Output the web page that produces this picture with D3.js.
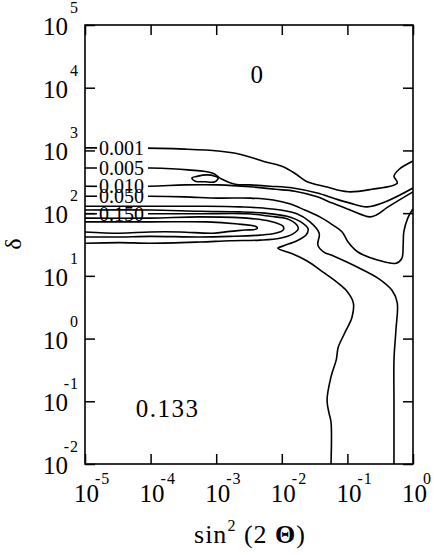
<!DOCTYPE html>
<html>
<head>
<meta charset="utf-8">
<script src="https://cdn.jsdelivr.net/npm/d3@7"></script>
<style>
body{margin:0;background:#fff;}
svg{display:block;font-family:"Liberation Serif","Times New Roman",serif;}
</style>
</head>
<body>
<div id="chart"></div>
<script>
//decades on each axis (log10 exponents)
const xExponents = [-5,-4,-3,-2,-1,0];
const yExponents = [-2,-1,0,1,2,3,4,5];

//contour lines, points are [log10 sin^2(2θ), log10 δ]
const c001 = [[-5,3.04],[-4.31,3.04],[-3.48,3.02],[-2.97,2.99],[-2.64,2.94],[-2.26,2.82],[-1.98,2.74],[-1.78,2.62],[-1.63,2.51],[-1.33,2.42],[-0.99,2.34],[-0.63,2.38],[-0.24,2.48],[-0.29,2.59],[-0.21,2.70],[0,2.83]];
const c005 = [[-5,2.72],[-4.01,2.72],[-3.43,2.69],[-3.06,2.64],[-2.91,2.54],[-2.71,2.46],[-2.48,2.45],[-2.18,2.43],[-1.83,2.40],[-1.46,2.32],[-1.19,2.23],[-0.96,2.16],[-0.70,2.10],[-0.40,2.19],[0,2.40]];
const c010 = [[-5,2.43],[-4.01,2.43],[-3.48,2.45],[-2.97,2.45],[-2.48,2.42],[-2.10,2.38],[-1.80,2.35],[-1.46,2.26],[-1.23,2.16],[-0.96,2.05],[-0.66,1.94],[-0.56,1.97],[-0.38,2.10],[0,2.34]];
const c050 = [[-5,2.27],[-4.01,2.27],[-3.48,2.26],[-2.97,2.24],[-2.48,2.24],[-2.13,2.21],[-1.88,2.15],[-1.65,2.05],[-1.42,1.94],[-1.22,1.81],[-1.08,1.70],[-0.99,1.54],[-0.84,1.38],[-0.53,1.25],[-0.26,1.20],[-0.17,1.28],[-0.15,1.49],[-0.14,1.70],[-0.08,1.92],[0,2.07]];
const cB = [[-5,2.11],[-4.01,2.11],[-3.25,2.11],[-2.64,2.10],[-2.18,2.07],[-1.77,1.99],[-1.57,1.86],[-1.43,1.68],[-1.45,1.49],[-1.36,1.38],[-1.22,1.32],[-0.85,1.14],[-0.53,0.96],[-0.32,0.77],[-0.24,0.57],[-0.26,0.14],[-0.29,-0.34],[-0.29,-0.98],[-0.29,-2]];
const cA = [[-5,2.05],[-4.01,2.05],[-3.25,2.03],[-2.64,2.02],[-2.26,2.00],[-1.92,1.95],[-1.71,1.86],[-1.60,1.75],[-1.63,1.65],[-1.77,1.56],[-1.97,1.48],[-2.06,1.44],[-1.83,1.35],[-1.62,1.24],[-1.37,1.06],[-1.16,0.90],[-1.01,0.76],[-0.91,0.57],[-0.93,0.34],[-1.04,0.09],[-1.14,-0.14],[-1.17,-0.34],[-1.25,-0.61],[-1.31,-0.98],[-1.28,-1.19],[-1.25,-1.33],[-1.25,-2]];
const c150 = [[-5,1.99],[-4.01,1.99],[-3.25,1.99],[-2.53,1.99],[-2.18,1.95],[-1.92,1.91],[-1.77,1.81],[-1.75,1.75],[-1.83,1.67],[-2.03,1.60],[-2.33,1.57],[-2.79,1.56],[-3.25,1.54],[-4.01,1.52],[-4.47,1.53],[-5,1.52]];
const cT2 = [[-5,1.92],[-4.01,1.92],[-3.25,1.94],[-2.53,1.92],[-2.18,1.87],[-1.98,1.79],[-1.98,1.73],[-2.10,1.68],[-2.33,1.65],[-2.79,1.63],[-3.25,1.62],[-4.01,1.63],[-4.47,1.62],[-5,1.62]];
const cT1 = [[-5,1.86],[-4.01,1.86],[-3.14,1.86],[-2.71,1.83],[-2.38,1.78],[-2.38,1.75],[-2.56,1.73],[-2.79,1.71],[-3.05,1.68],[-3.55,1.70],[-4.01,1.70],[-4.47,1.68],[-5,1.70]];
//small closed island
const cLoop = [[-3.37,2.56],[-3.28,2.59],[-3.14,2.61],[-3.02,2.59],[-2.97,2.56],[-3.02,2.50],[-3.17,2.50],[-3.32,2.51]];

const contourLines = [c001, c005, c010, c050, cB, cA, c150, cT2, cT1];
const contourLabels = ["0.001","0.005","0.010","0.050",null,null,"0.150",null,null];

//region values written in the plot
const regionText = ["0","0.133"];
const regionSin2 = [-2.38,-3.74];
const regionDelta = [4.07,-1.25];


//sizing
let margin = {top:25, right:23, bottom:91, left:85};
let width = 436;
let height = 555;

let svg = d3.select("#chart")
	.append("svg")
	.attr("width", width)
	.attr("height", height);

const xScale = d3.scaleLog()
	.domain([1e-5, 1])
	.range([margin.left, width-margin.right]);

const yScale = d3.scaleLog()
	.domain([1e-2, 1e5])
	.range([height-margin.bottom, margin.top]);

const px = (d)=>xScale(Math.pow(10, d[0]));
const py = (d)=>yScale(Math.pow(10, d[1]));

const xTicks = xExponents.map((e)=>Math.pow(10, e));
const yTicks = yExponents.map((e)=>Math.pow(10, e));

//ticks pointing inward on all four sides
function drawAxis(axis, tx, ty){
	let g = svg.append("g")
		.attr("class","axis")
		.attr("transform", `translate(${tx},${ty})`)
		.call(axis);
	g.select(".domain").remove();
	g.selectAll("line").attr("stroke","#000").attr("stroke-width",1.5);
	g.selectAll("text").remove();
}
drawAxis(d3.axisBottom(xScale).tickValues(xTicks).tickSizeInner(-10).tickSizeOuter(0), 0, height-margin.bottom);
drawAxis(d3.axisTop(xScale).tickValues(xTicks).tickSizeInner(-10).tickSizeOuter(0), 0, margin.top);
drawAxis(d3.axisLeft(yScale).tickValues(yTicks).tickSizeInner(-10).tickSizeOuter(0), margin.left, 0);
drawAxis(d3.axisRight(yScale).tickValues(yTicks).tickSizeInner(-10).tickSizeOuter(0), width-margin.right, 0);

//frame
svg.append("rect")
	.attr("x", margin.left)
	.attr("y", margin.top)
	.attr("width", width-margin.left-margin.right)
	.attr("height", height-margin.top-margin.bottom)
	.attr("fill","none")
	.attr("stroke","#000")
	.attr("stroke-width",1.6);

//tick labels 10^n
let yLab = svg.append("g").selectAll("g").data(yExponents).join("g");
yLab.append("text")
	.attr("x", margin.left-17)
	.attr("y", (d)=>yScale(Math.pow(10,d))+10)
	.attr("text-anchor","end")
	.attr("font-size",25)
	.text("10");
yLab.append("text")
	.attr("x", margin.left-6)
	.attr("y", (d)=>yScale(Math.pow(10,d))-12)
	.attr("text-anchor","end")
	.attr("font-size",16)
	.attr("letter-spacing",1)
	.text((d)=>d);

let xLab = svg.append("g").selectAll("g").data(xExponents).join("g");
xLab.append("text")
	.attr("x", (d)=>xScale(Math.pow(10,d))+1.5)
	.attr("y", height-margin.bottom+38)
	.attr("text-anchor","middle")
	.attr("font-size",25)
	.text("10");
xLab.append("text")
	.attr("x", (d)=>xScale(Math.pow(10,d))+10)
	.attr("y", height-margin.bottom+20)
	.attr("text-anchor","start")
	.attr("font-size",16)
	.attr("letter-spacing",1)
	.text((d)=>d);

//axis titles
svg.append("text")
	.attr("transform","translate(21,244) rotate(-90)")
	.attr("text-anchor","middle")
	.attr("font-size",24)
	.text("δ");

let xt = svg.append("text")
	.attr("x",250)
	.attr("y",543)
	.attr("text-anchor","middle")
	.attr("font-size",26)
	.attr("letter-spacing",1);
xt.append("tspan").text("sin");
xt.append("tspan").attr("font-size",16).attr("dy",-12).text("2");
xt.append("tspan").attr("dy",12).text(" (2 ");
xt.append("tspan").attr("font-weight","bold").text("Θ");
xt.append("tspan").text(")");

//contours
let line = d3.line()
	.x(px)
	.y(py)
	.curve(d3.curveCatmullRom.alpha(0.5));

let lineClosed = d3.line()
	.x(px)
	.y(py)
	.curve(d3.curveCatmullRomClosed.alpha(0.5));

let defs = svg.append("defs");
svg.append("clipPath").attr("id","plotclip")
	.append("rect")
	.attr("x", margin.left)
	.attr("y", margin.top)
	.attr("width", width-margin.left-margin.right)
	.attr("height", height-margin.top-margin.bottom);

let plot = svg.append("g").attr("clip-path","url(#plotclip)");

contourLines.forEach((c,i)=>{
	let path = plot.append("path")
		.datum(c)
		.attr("class","contour")
		.attr("fill","none")
		.attr("stroke","#000")
		.attr("stroke-width",1.6)
		.attr("d", line);

	if (contourLabels[i]) {
		//gap in the line where its label sits
		let ly = py(c[0]);
		let m = defs.append("mask")
			.attr("id","lab"+i)
			.attr("maskUnits","userSpaceOnUse")
			.attr("x",0).attr("y",0).attr("width",width).attr("height",height);
		m.append("rect").attr("x",0).attr("y",0).attr("width",width).attr("height",height).attr("fill","#fff");
		m.append("rect").attr("x",margin.left+12).attr("y",ly-9).attr("width",51).attr("height",18).attr("fill","#000");
		path.attr("mask","url(#lab"+i+")");

		svg.append("text")
			.attr("x", margin.left+14)
			.attr("y", ly+7)
			.attr("font-size",20)
			.text(contourLabels[i]);
	}
});

plot.append("path")
	.datum(cLoop)
	.attr("fill","none")
	.attr("stroke","#000")
	.attr("stroke-width",1.6)
	.attr("d", lineClosed);

//region values
svg.append("g").selectAll("text").data(regionText).join("text")
	.attr("x", (d,i)=>xScale(Math.pow(10,regionSin2[i])))
	.attr("y", (d,i)=>yScale(Math.pow(10,regionDelta[i])))
	.attr("text-anchor","middle")
	.attr("font-size",25)
	.attr("letter-spacing",(d,i)=>i==1 ? 1.5 : 0)
	.text((d)=>d);
</script>
</body>
</html>
